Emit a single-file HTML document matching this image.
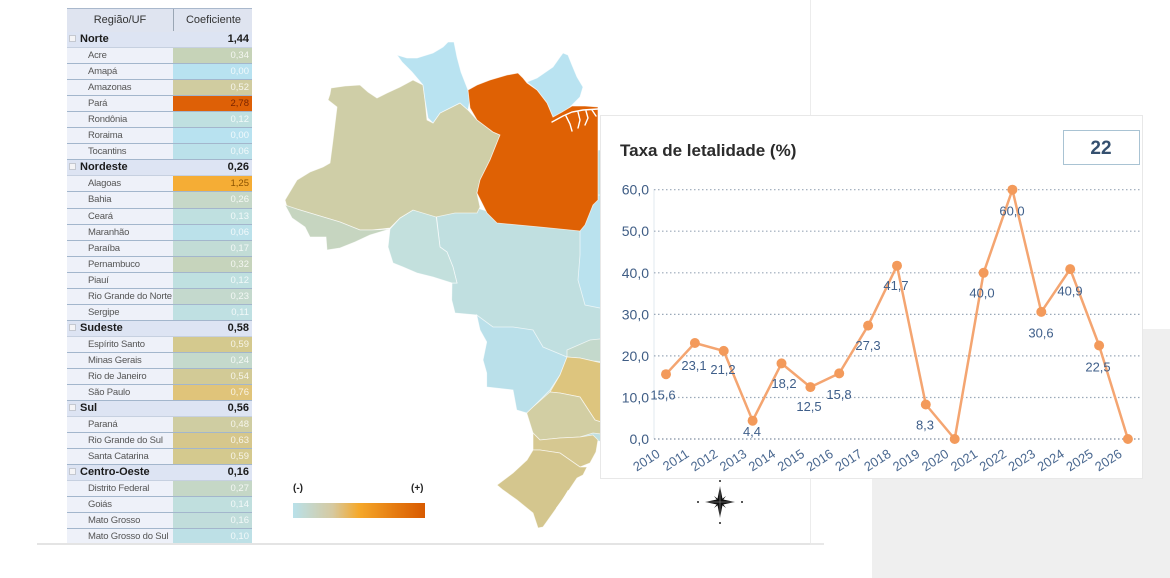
<!DOCTYPE html>
<html>
<head>
<meta charset="utf-8">
<style>
  html,body{margin:0;padding:0;}
  body{width:1170px;height:578px;overflow:hidden;background:#ffffff;position:relative;font-family:"Liberation Sans",Arial,sans-serif;}
  .abs{position:absolute;}
  #mappanel{left:37px;top:0;width:773px;height:543px;background:#fff;border-right:1px solid #ececec;border-bottom:2px solid #e4e4e4;}
  #bline{left:810px;top:543px;width:14px;height:2px;background:#e8e8e8;}
  #grayrect{left:872px;top:329px;width:298px;height:249px;background:#efefef;}
  #tbl{left:67px;top:8px;width:185px;height:535px;overflow:hidden;}
  .hdr{height:24px;background:#dfe4f0;border-top:1px solid #a9b8cc;box-sizing:border-box;position:relative;font-size:11px;color:#333;}
  .hdr .c1{position:absolute;left:0;width:106px;top:0;line-height:22px;text-align:center;}
  .hdr .c2{position:absolute;left:106px;width:79px;top:0;line-height:22px;text-align:center;border-left:1px solid #9aa6b4;height:22px;}
  .r{height:16.05px;position:relative;box-sizing:border-box;border-bottom:1px solid #a3b6cc;background:#eef1f9;font-size:9.5px;letter-spacing:-0.2px;line-height:15px;color:#555;white-space:nowrap;}
  .r .n{position:absolute;left:21px;top:0;}
  .r .v{position:absolute;left:106px;width:79px;top:0;bottom:0;text-align:right;box-sizing:border-box;padding-right:3px;color:rgba(255,255,255,0.8);letter-spacing:0;}
  .g{background:#dde4f3;font-weight:bold;font-size:11px;letter-spacing:0;color:#1b1b1b;border-bottom:1px solid #c6d0e0;}
  .g .n{left:13px;}
  .g .v{color:#1b1b1b;}
  .g .ic{position:absolute;left:2px;top:3px;width:5px;height:5px;border:1px solid #c4c8d0;background:#f4f4f6;}
  #chartpanel{left:600px;top:115px;width:541px;height:362px;background:#fff;border:1px solid #e8e8e8;}
  svg{position:absolute;left:0;top:0;}
</style>
</head>
<body>
<div id="mappanel" class="abs"></div>
<div id="bline" class="abs"></div>
<div id="grayrect" class="abs"></div>

<svg width="1170" height="578" viewBox="0 0 1170 578">
  <defs>
    <linearGradient id="lg" x1="0" x2="1" y1="0" y2="0">
      <stop offset="0" stop-color="#b9e1ea"/>
      <stop offset="0.3" stop-color="#d6c9a0"/>
      <stop offset="0.5" stop-color="#f5a82a"/>
      <stop offset="0.78" stop-color="#e57a10"/>
      <stop offset="1" stop-color="#d85a00"/>
    </linearGradient>
  </defs>
  <g stroke="#ffffff" stroke-width="0.8" stroke-opacity="0.7">
    <path fill="#c0dfe0" d="M436,212 L477,208 L490,212 L540,222 L580,226 L593,200 L598,150 L700,150 L700,470 L595,440 L533,433 L526.7,413 L516.7,410 L513,390 L486.7,387 L486.7,373 L483,360 L486.7,342 L480,330 L476.7,315 L455,313 L451.7,300 L452,283 L457,283 L453,267 L447,252 L440,247 Z"/>
    <path fill="#c3e0dd" d="M390,229 L400,218 L413,210 L436,215 L440,247 L447,252 L453,267 L457,283 L452,283 L433,277 L417,273 L403,267 L393,263 L388,247 Z"/>
    <path fill="#bae2ee" d="M580,230 L593,205 L598,195 L610,195 L610,310 L585,305 L578,280 L580,255 Z"/>
    <path fill="#c4d9cc" d="M567,350 L590,340 L610,338 L610,362 L593,361 L580,358 L567,357 Z"/>
    <path fill="#bae0ea" d="M476.7,315 L493,327 L513,327 L533,330 L543,347 L567,357 L560,375 L550,390 L533,407 L526.7,413 L516.7,410 L513,390 L486.7,387 L486.7,373 L483,360 L486.7,342 L480,330 Z"/>
    <path fill="#ddc57e" d="M567,357 L580,358 L593,361 L610,365 L610,425 L595,420 L580,397 L560,393 L550,392 L560,375 Z"/>
    <path fill="#d2cea3" d="M526.7,413 L533,407 L550,392 L560,393 L580,397 L595,420 L610,425 L610,435 L593,433 L580,437 L560,438 L540,440 L533,433 Z"/>
    <path fill="#d6c891" d="M533,433 L540,440 L560,438 L580,437 L593,435 L598,440 L596,452 L590,463 L580,467 L560,453 L540,450 L533,450 Z"/>
    <path fill="#d4c68e" d="M533,450 L540,450 L560,453 L580,467 L587,467 L583,475 L577,478 L567,493 L553,513 L543,527 L538,528 L533,513 L517,500 L503,490 L497,485 L513,473 L527,460 Z"/>
    <path fill="#cfcea7" d="M331,88 L345,86 L360,85 L368,92 L377,98 L387,93 L400,87 L413,80 L423,85 L425,100 L427,120 L433,123 L440,113 L450,108 L460,103 L468,110 L477,120 L493,132 L500,135 L490,160 L480,180 L477,193 L480,207 L477,213 L455,213 L436,217 L413,210 L400,218 L390,228 L372,230 L360,230 L340,222 L300,210 L287,207 L285,200 L297,180 L310,172 L323,167 L330,163 L333,140 L337,107 L328,100 L330,94 Z"/>
    <path fill="#c6d5c0" d="M285,205 L300,210 L340,222 L360,230 L372,230 L390,229 L370,235 L355,242 L340,248 L327,250 L326,237 L310,237 L305,227 L292,218 Z"/>
    <path fill="#b9e3f1" d="M397,55 L407,58 L417,58 L433,53 L443,47 L448,42 L454,42 L457,57 L461,72 L468,90 L470,100 L468,110 L460,103 L450,108 L440,113 L433,123 L428,118 L425,100 L423,85 L412,72 L402,62 Z"/>
    <path fill="#b9e3f1" d="M527,82 L537,78 L553,67 L560,57 L563,53 L568,55 L572,65 L577,77 L583,87 L580,97 L570,107 L560,115 L553,117 L547,103 L537,90 Z"/>
    <path fill="#df6104" d="M468,90 L477,85 L490,80 L507,75 L518,73 L523,78 L527,83 L537,90 L547,103 L553,117 L562,112 L572,106 L585,106 L598,107 L598,200 L593,205 L585,225 L580,231 L540,227 L497,223 L487,213 L477,193 L480,180 L490,160 L500,135 L493,132 L477,120 L470,108 Z"/>
  </g>
  <g stroke="#ffffff" stroke-width="1.4" fill="none" stroke-linecap="round">
    <path d="M552,122 L563,116 L572,112 L583,110 L598,109"/>
    <path d="M566,116 L570,124 L572,131"/>
    <path d="M578,112 L580,120 L578,128"/>
    <path d="M586,111 L588,118 L585,125"/>
    <path d="M592,110 L596,116"/>
  </g>
  <path d="M556,508 L562,500 L568,490 L571,492 L566,502 L559,512 Z" fill="#ffffff"/>

  <text x="293" y="491" font-size="10" font-weight="bold" fill="#222">(-)</text>
  <text x="411" y="491" font-size="10" font-weight="bold" fill="#222">(+)</text>
  <rect x="293" y="503" width="132" height="15" fill="url(#lg)"/>

  <g transform="translate(720,502)">
    <polygon points="0,-16 2.6,-2.6 15,0 2.6,2.6 0,16 -2.6,2.6 -15,0 -2.6,-2.6" fill="#111"/>
    <polygon points="-6,-6 0,-1.5 6,-6 1.5,0 6,6 0,1.5 -6,6 -1.5,0" fill="#111"/>
    <path d="M0,-16 L0,16 M-15,0 L15,0" stroke="#fff" stroke-width="0.5" opacity="0.6"/>
    <circle cx="0" cy="-21" r="1" fill="#222"/>
    <circle cx="0" cy="21" r="1" fill="#222"/>
    <circle cx="-22" cy="0" r="1" fill="#222"/>
    <circle cx="22" cy="0" r="1" fill="#222"/>
  </g>
</svg>

<div id="tbl" class="abs">
  <div class="hdr"><div class="c1">Região/UF</div><div class="c2">Coeficiente</div></div>
  <div class="r g"><span class="ic"></span><span class="n">Norte</span><span class="v">1,44</span></div>
  <div class="r"><span class="n">Acre</span><span class="v" style="background:#c6d3b8">0,34</span></div>
  <div class="r"><span class="n">Amapá</span><span class="v" style="background:#b8e2f0">0,00</span></div>
  <div class="r"><span class="n">Amazonas</span><span class="v" style="background:#d0cca0">0,52</span></div>
  <div class="r"><span class="n">Pará</span><span class="v" style="background:#de6006;color:#7a2400">2,78</span></div>
  <div class="r"><span class="n">Rondônia</span><span class="v" style="background:#bfe0e0">0,12</span></div>
  <div class="r"><span class="n">Roraima</span><span class="v" style="background:#b8e2f0">0,00</span></div>
  <div class="r"><span class="n">Tocantins</span><span class="v" style="background:#bbe1ea">0,06</span></div>
  <div class="r g"><span class="ic"></span><span class="n">Nordeste</span><span class="v">0,26</span></div>
  <div class="r"><span class="n">Alagoas</span><span class="v" style="background:#f5ad35;color:#8a5200">1,25</span></div>
  <div class="r"><span class="n">Bahia</span><span class="v" style="background:#c6d8c8">0,26</span></div>
  <div class="r"><span class="n">Ceará</span><span class="v" style="background:#bfe0e0">0,13</span></div>
  <div class="r"><span class="n">Maranhão</span><span class="v" style="background:#bbe1ea">0,06</span></div>
  <div class="r"><span class="n">Paraíba</span><span class="v" style="background:#c2dcd6">0,17</span></div>
  <div class="r"><span class="n">Pernambuco</span><span class="v" style="background:#c6d4bc">0,32</span></div>
  <div class="r"><span class="n">Piauí</span><span class="v" style="background:#bfe0e0">0,12</span></div>
  <div class="r"><span class="n">Rio Grande do Norte</span><span class="v" style="background:#c4d9cd">0,23</span></div>
  <div class="r"><span class="n">Sergipe</span><span class="v" style="background:#bfe0e2">0,11</span></div>
  <div class="r g"><span class="ic"></span><span class="n">Sudeste</span><span class="v">0,58</span></div>
  <div class="r"><span class="n">Espírito Santo</span><span class="v" style="background:#d4c98e">0,59</span></div>
  <div class="r"><span class="n">Minas Gerais</span><span class="v" style="background:#c4d9cc">0,24</span></div>
  <div class="r"><span class="n">Rio de Janeiro</span><span class="v" style="background:#d2ca96">0,54</span></div>
  <div class="r"><span class="n">São Paulo</span><span class="v" style="background:#e0c47a">0,76</span></div>
  <div class="r g"><span class="ic"></span><span class="n">Sul</span><span class="v">0,56</span></div>
  <div class="r"><span class="n">Paraná</span><span class="v" style="background:#cfcda2">0,48</span></div>
  <div class="r"><span class="n">Rio Grande do Sul</span><span class="v" style="background:#d6c78c">0,63</span></div>
  <div class="r"><span class="n">Santa Catarina</span><span class="v" style="background:#d4c98e">0,59</span></div>
  <div class="r g"><span class="ic"></span><span class="n">Centro-Oeste</span><span class="v">0,16</span></div>
  <div class="r"><span class="n">Distrito Federal</span><span class="v" style="background:#c5d7c6">0,27</span></div>
  <div class="r"><span class="n">Goiás</span><span class="v" style="background:#c0dfde">0,14</span></div>
  <div class="r"><span class="n">Mato Grosso</span><span class="v" style="background:#c1dddb">0,16</span></div>
  <div class="r"><span class="n">Mato Grosso do Sul</span><span class="v" style="background:#bde0e6">0,10</span></div>
</div>

<div id="chartpanel" class="abs"></div>

<svg width="1170" height="578" viewBox="0 0 1170 578">
  <text x="620" y="156" font-size="17" font-weight="bold" fill="#2b2b2b">Taxa de letalidade (%)</text>
  <rect x="1063.5" y="130.5" width="76" height="34" fill="#fff" stroke="#a9c3d3" stroke-width="1"/>
  <text x="1101" y="154" font-size="19" font-weight="bold" fill="#35506f" text-anchor="middle">22</text>

  <line x1="654" y1="189" x2="654" y2="439" stroke="#e2e8ef" stroke-width="1"/>
  <g stroke="#9aa8b8" stroke-width="1.2" stroke-dasharray="1.5 2.5">
    <line x1="654" y1="189.7" x2="1140" y2="189.7"/>
    <line x1="654" y1="231.2" x2="1140" y2="231.2"/>
    <line x1="654" y1="272.8" x2="1140" y2="272.8"/>
    <line x1="654" y1="314.4" x2="1140" y2="314.4"/>
    <line x1="654" y1="355.9" x2="1140" y2="355.9"/>
    <line x1="654" y1="397.5" x2="1140" y2="397.5"/>
    <line x1="654" y1="439" x2="1140" y2="439" stroke="#7f8da0"/>
  </g>
  <g font-size="14" fill="#3f5d85" text-anchor="end">
    <text x="649" y="194.7">60,0</text>
    <text x="649" y="236.2">50,0</text>
    <text x="649" y="277.8">40,0</text>
    <text x="649" y="319.4">30,0</text>
    <text x="649" y="360.9">20,0</text>
    <text x="649" y="402.5">10,0</text>
    <text x="649" y="444">0,0</text>
  </g>

  <polyline fill="none" stroke="#f4a571" stroke-width="2.5" stroke-linejoin="round"
    points="666,374.2 694.9,343 723.7,350.9 752.6,420.7 781.5,363.4 810.4,387.1 839.2,373.4 868.1,325.6 897,265.7 925.8,404.5 954.7,439 983.6,272.8 1012.4,189.7 1041.3,311.9 1070.2,269.1 1099.1,345.5 1127.9,439"/>
  <g fill="#f39a5b">
    <circle cx="666" cy="374.2" r="5"/>
    <circle cx="694.9" cy="343" r="5"/>
    <circle cx="723.7" cy="350.9" r="5"/>
    <circle cx="752.6" cy="420.7" r="5"/>
    <circle cx="781.5" cy="363.4" r="5"/>
    <circle cx="810.4" cy="387.1" r="5"/>
    <circle cx="839.2" cy="373.4" r="5"/>
    <circle cx="868.1" cy="325.6" r="5"/>
    <circle cx="897" cy="265.7" r="5"/>
    <circle cx="925.8" cy="404.5" r="5"/>
    <circle cx="954.7" cy="439" r="5"/>
    <circle cx="983.6" cy="272.8" r="5"/>
    <circle cx="1012.4" cy="189.7" r="5"/>
    <circle cx="1041.3" cy="311.9" r="5"/>
    <circle cx="1070.2" cy="269.1" r="5"/>
    <circle cx="1099.1" cy="345.5" r="5"/>
    <circle cx="1127.9" cy="439" r="5"/>
  </g>
  <g font-size="13" fill="#3f5f8a" text-anchor="middle">
    <text x="663" y="399.5">15,6</text>
    <text x="694" y="370">23,1</text>
    <text x="723" y="374">21,2</text>
    <text x="752" y="436">4,4</text>
    <text x="784" y="388">18,2</text>
    <text x="809" y="411">12,5</text>
    <text x="839" y="399">15,8</text>
    <text x="868" y="350">27,3</text>
    <text x="896" y="290">41,7</text>
    <text x="925" y="429.5">8,3</text>
    <text x="982" y="297.5">40,0</text>
    <text x="1012" y="215.5">60,0</text>
    <text x="1041" y="337.5">30,6</text>
    <text x="1070" y="295.5">40,9</text>
    <text x="1098" y="371.5">22,5</text>
  </g>
  <g font-size="13" fill="#4a6890" text-anchor="end">
    <text transform="translate(661,456) rotate(-33)">2010</text>
    <text transform="translate(689.9,456) rotate(-33)">2011</text>
    <text transform="translate(718.7,456) rotate(-33)">2012</text>
    <text transform="translate(747.6,456) rotate(-33)">2013</text>
    <text transform="translate(776.5,456) rotate(-33)">2014</text>
    <text transform="translate(805.4,456) rotate(-33)">2015</text>
    <text transform="translate(834.2,456) rotate(-33)">2016</text>
    <text transform="translate(863.1,456) rotate(-33)">2017</text>
    <text transform="translate(892,456) rotate(-33)">2018</text>
    <text transform="translate(920.8,456) rotate(-33)">2019</text>
    <text transform="translate(949.7,456) rotate(-33)">2020</text>
    <text transform="translate(978.6,456) rotate(-33)">2021</text>
    <text transform="translate(1007.4,456) rotate(-33)">2022</text>
    <text transform="translate(1036.3,456) rotate(-33)">2023</text>
    <text transform="translate(1065.2,456) rotate(-33)">2024</text>
    <text transform="translate(1094.1,456) rotate(-33)">2025</text>
    <text transform="translate(1122.9,456) rotate(-33)">2026</text>
  </g>
</svg>
</body>
</html>
